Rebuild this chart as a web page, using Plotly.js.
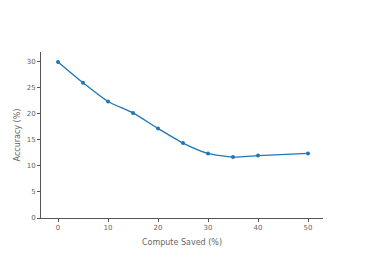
<!DOCTYPE html>
<html><head><meta charset="utf-8">
<script src="https://cdn.plot.ly/plotly-3.0.1.min.js"></script>
<style>html,body{margin:0;padding:0;background:#fff}#c{width:366px;height:261px}</style>
</head><body><div id="c"></div>
<script>
var computeSaved = [0, 5, 10, 15, 20, 25, 30, 35, 40, 50];
var accuracy = [30.0, 26.0, 22.4, 20.2, 17.2, 14.4, 12.4, 11.7, 12.0, 12.4];
var xTicks = [0, 10, 20, 30, 40, 50];
var yTicks = [0, 5, 10, 15, 20, 25, 30];

Plotly.newPlot('c', [{
  x: computeSaved, y: accuracy, type: 'scatter', mode: 'lines+markers',
  line: {color: '#1f77b4', width: 1.3, shape: 'spline', smoothing: 0.6},
  marker: {color: '#1f77b4', size: 4}
}], {
  width: 366, height: 261,
  margin: {l: 41, r: 43, t: 52, b: 43},
  paper_bgcolor: '#fff', plot_bgcolor: '#fff',
  showlegend: false,
  font: {family: 'DejaVu Sans', size: 7, color: '#666'},
  xaxis: {range: [-3.4, 53], tickvals: xTicks, showgrid: false, zeroline: false,
    showline: true, linecolor: '#555', linewidth: 1, ticks: 'outside', ticklen: 3, tickcolor: '#555',
    tickfont: {family: 'DejaVu Sans', size: 7, color: '#666'},
    title: {text: 'Compute Saved (%)', font: {family: 'DejaVu Sans', size: 8, color: '#666'}, standoff: 7}},
  yaxis: {range: [0, 31.9], tickvals: yTicks, showgrid: false, zeroline: false,
    showline: true, linecolor: '#555', linewidth: 1, ticks: 'outside', ticklen: 3, tickcolor: '#555',
    tickfont: {family: 'DejaVu Sans', size: 7, color: '#666'},
    title: {text: 'Accuracy (%)', font: {family: 'DejaVu Sans', size: 8, color: '#666'}, standoff: 4}}
}, {staticPlot: true});
</script></body></html>
